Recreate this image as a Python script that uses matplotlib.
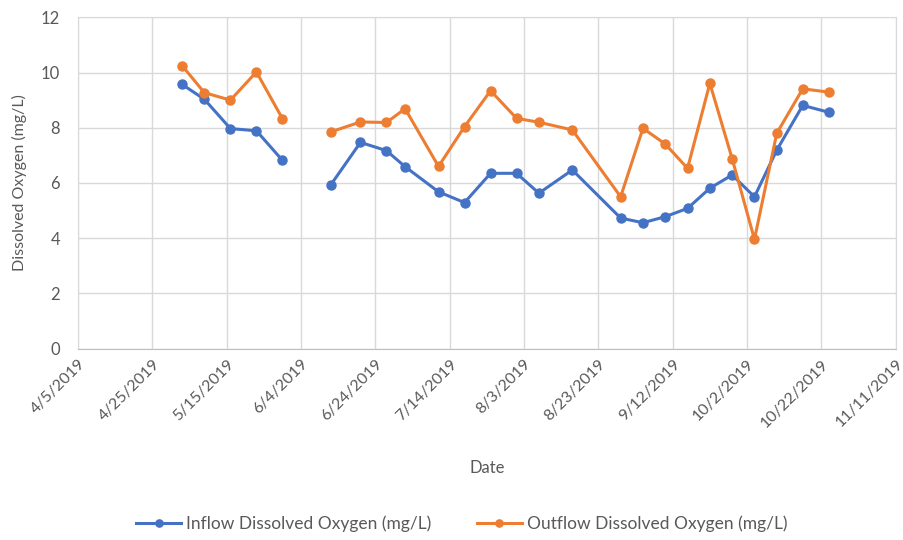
#!/usr/bin/env python3
# Dissolved oxygen at the inflow and outflow, 2019 sampling season
import numpy as np
import pandas as pd
import matplotlib
matplotlib.use("Agg")
import matplotlib.pyplot as plt

# Sample dates (NaN row on 6/6 breaks the line like an empty cell in Excel)
dates = ["2019-05-03", "2019-05-09", "2019-05-16", "2019-05-23", "2019-05-30",
         "2019-06-06",
         "2019-06-12", "2019-06-20", "2019-06-27", "2019-07-02", "2019-07-11",
         "2019-07-18", "2019-07-25", "2019-08-01", "2019-08-07", "2019-08-16",
         "2019-08-29", "2019-09-04", "2019-09-10", "2019-09-16", "2019-09-22",
         "2019-09-28", "2019-10-04", "2019-10-10", "2019-10-17", "2019-10-24"]

inflow_do = [9.57, 9.03, 7.97, 7.89, 6.82,
             np.nan,
             5.93, 7.47, 7.17, 6.59, 5.68,
             5.29, 6.35, 6.35, 5.63, 6.47,
             4.73, 4.56, 4.78, 5.08, 5.81,
             6.29, 5.50, 7.19, 8.81, 8.56]

outflow_do = [10.25, 9.27, 9.00, 10.02, 8.33,
              np.nan,
              7.85, 8.21, 8.19, 8.69, 6.60,
              8.04, 9.34, 8.34, 8.20, 7.92,
              5.50, 7.98, 7.41, 6.53, 9.61,
              6.88, 3.96, 7.80, 9.41, 9.29]

tick_dates = pd.date_range("2019-04-05", "2019-11-11", freq="20D")

x = pd.to_datetime(dates)
grey = "#595959"
fs = 12

plt.rcParams['font.family'] = ['Lato', 'DejaVu Sans']

fig = plt.figure(figsize=(9.04, 5.4), dpi=100)
ax = fig.add_axes([0.0863, 0.3543, 0.9045, 0.6137])

ax.plot(x, inflow_do, color="#4472C4", lw=2.2, marker="o", ms=6.5,
        label="Inflow Dissolved Oxygen (mg/L)")
ax.plot(x, outflow_do, color="#ED7D31", lw=2.2, marker="o", ms=6.5,
        label="Outflow Dissolved Oxygen (mg/L)")

# axis ranges and ticks
ax.set_xlim(tick_dates[0], tick_dates[-1])
ax.set_ylim(0, 12)
ax.set_yticks(range(0, 13, 2))
ax.set_xticks(tick_dates)
ax.set_xticklabels([f"{d.month}/{d.day}/{d.year}" for d in tick_dates],
                   rotation=45, ha="right", rotation_mode="anchor",
                   fontsize=11.5)

ax.grid(True, color="#D9D9D9", lw=1)
ax.set_axisbelow(True)
for side in ax.spines:
    ax.spines[side].set_color("#D9D9D9")
ax.spines["bottom"].set_color("#BFBFBF")
ax.tick_params(length=0, colors=grey)
ax.tick_params(axis="y", pad=13, labelsize=fs)
ax.tick_params(axis="x", pad=6)

ax.set_ylabel("Dissolved Oxygen (mg/L)", fontsize=11.5, color=grey)
ax.set_xlabel("Date", fontsize=fs, color=grey)
ax.yaxis.set_label_coords(-0.062, 0.5)
ax.xaxis.set_label_coords(0.5, -0.335)

fig.legend(loc="center", bbox_to_anchor=(0.511, 0.03), ncol=2, frameon=False,
           fontsize=12.5, labelcolor=grey, handlelength=2.6, handletextpad=0.3,
           columnspacing=2.6, markerscale=0.8)

fig.savefig("out.png", dpi=100)
